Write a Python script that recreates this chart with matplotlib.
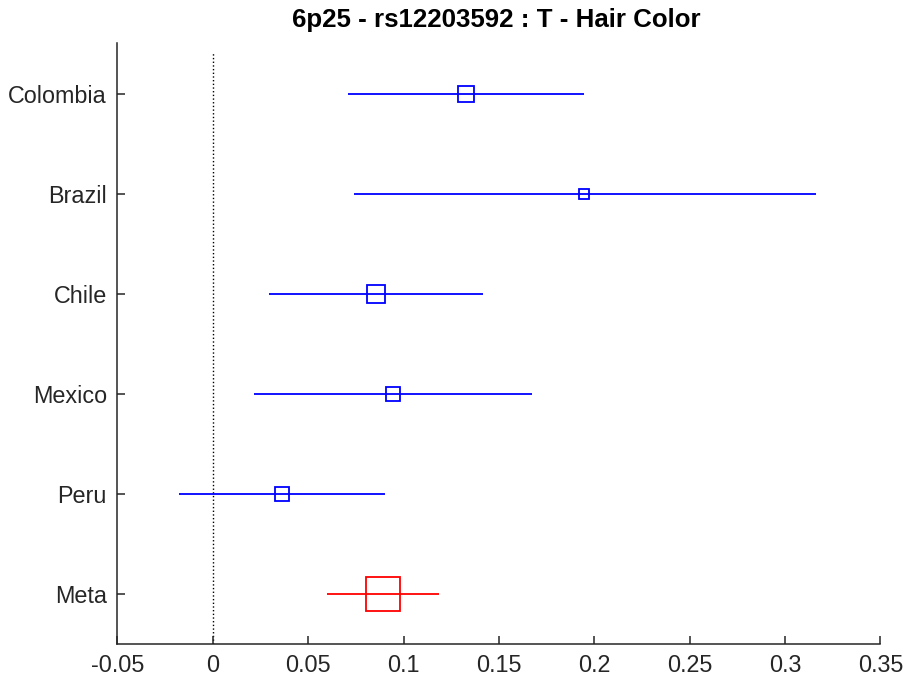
import matplotlib
matplotlib.use("Agg")
import matplotlib.pyplot as plt

plt.rcParams["font.family"] = ["Liberation Sans", "DejaVu Sans"]

AXIS_INK = "#262626"

# forest plot values, top to bottom
studies = ["Colombia", "Brazil", "Chile", "Mexico", "Peru", "Meta"]
effect = [0.1329, 0.1946, 0.0856, 0.0946, 0.0365, 0.0893]
ci_low = [0.0711, 0.0740, 0.0297, 0.0216, -0.0177, 0.0600]
ci_high = [0.1945, 0.3162, 0.1418, 0.1673, 0.0901, 0.1184]
weights = [11.7, 7.3, 12.4, 9.9, 10.4, 24.1]  # box side, points
x_ticks = [-0.05, 0, 0.05, 0.1, 0.15, 0.2, 0.25, 0.3, 0.35]
x_tick_labels = ["-0.05", "0", "0.05", "0.1", "0.15", "0.2", "0.25", "0.3", "0.35"]

fig = plt.figure(figsize=(9.04, 6.88), dpi=100, facecolor="white")
ax = fig.add_axes([0.1298, 0.064, 0.974 - 0.1298, 0.938 - 0.064])

n = len(studies)
rows = list(range(n, 0, -1))
for name, y, est, lo, hi, w in zip(studies, rows, effect, ci_low, ci_high, weights):
    color = "red" if name == "Meta" else "blue"
    ax.plot([lo, hi], [y, y], color=color, linewidth=1.3, solid_capstyle="butt", zorder=2)
    ax.plot([est], [y], marker="s", markersize=w, markerfacecolor="none",
            markeredgecolor=color, markeredgewidth=1.3, linestyle="none", zorder=3)

ax.plot([0, 0], [0.5, 6.41], color="black", linestyle=":", linewidth=1.0, zorder=1)

ax.set_xlim(-0.05, 0.35)
ax.set_ylim(0.5, 6.51)
ax.set_xticks(x_ticks)
ax.set_xticklabels(x_tick_labels)
ax.set_yticks(rows)
ax.set_yticklabels(studies)

ax.spines[["top", "right"]].set_visible(False)
ax.spines[["left", "bottom"]].set_color(AXIS_INK)
ax.spines[["left", "bottom"]].set_linewidth(1.1)
ax.tick_params(axis="both", direction="in", length=6, width=1.1, colors=AXIS_INK,
               labelsize=16.8, labelcolor=AXIS_INK)
ax.tick_params(axis="y", pad=7.6)
ax.tick_params(axis="x", pad=7.5)

fig.text(0.5485, 1 - 20 / 688, "6p25 - rs12203592 : T - Hair Color", ha="center", va="center",
         fontsize=18.6, fontweight="bold", color="black")

fig.savefig("out.png", dpi=100, facecolor="white")
